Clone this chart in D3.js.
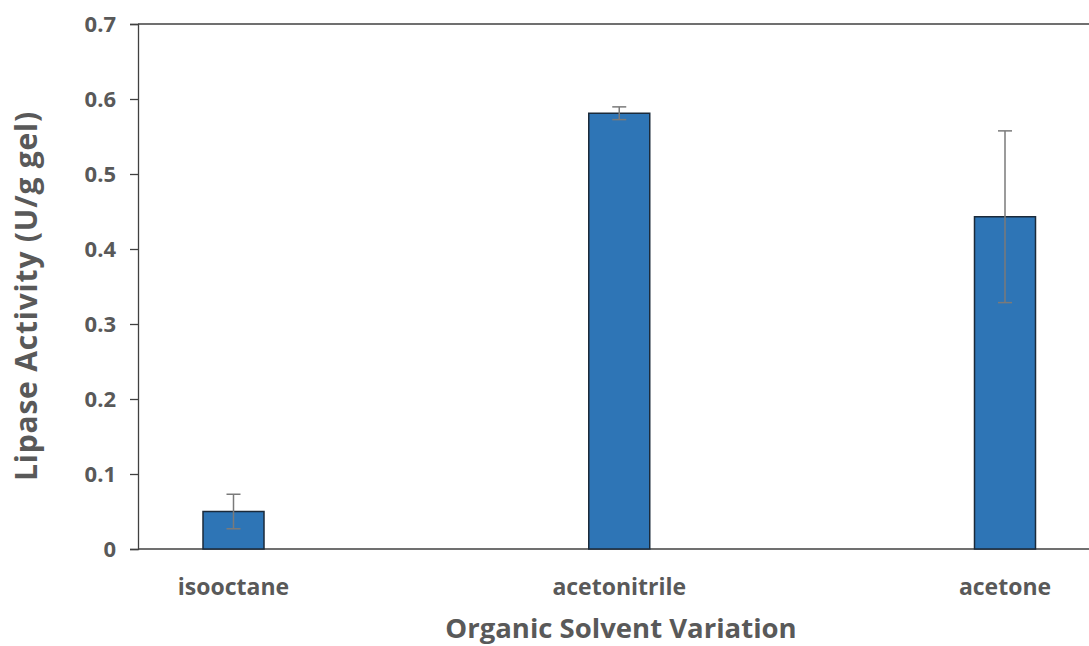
<!DOCTYPE html>
<html>
<head>
<meta charset="utf-8">
<script src="https://cdn.jsdelivr.net/npm/d3@7"></script>
<style>
  html, body { margin: 0; padding: 0; background: #fff; }
  svg { display: block; }
  text { font-family: "Open Sans", "Noto Sans", sans-serif; fill: #595959; font-weight: bold; }
</style>
</head>
<body>
<svg id="chart" width="1089" height="646"></svg>
<script>
// Lipase activity by organic solvent
const categories = ["isooctane", "acetonitrile", "acetone"];
const activity = [0.050, 0.581, 0.443];
const errors = [0.023, 0.0085, 0.1145];
const yTicks = [0, 0.1, 0.2, 0.3, 0.4, 0.5, 0.6, 0.7];

const svg = d3.select("#chart");
const plot = { left: 138, top: 24, right: 1089, bottom: 549 };

const y = d3.scaleLinear().domain([0, 0.7]).range([plot.bottom, plot.top]);
const x = d3.scalePoint().domain(categories)
  .range([plot.left + 95.5, plot.left + 867]);
const barW = 61;

// plot frame: top border
svg.append("line")
  .attr("x1", plot.left).attr("x2", plot.right)
  .attr("y1", y(0.7)).attr("y2", y(0.7))
  .attr("stroke", "#404040").attr("stroke-width", 1.3);

// y axis
const yAxis = svg.append("g")
  .attr("transform", `translate(${plot.left},0)`)
  .call(d3.axisLeft(y).tickValues(yTicks).tickSize(8).tickPadding(14)
    .tickFormat(d => d === 0 ? "0" : d3.format(".1f")(d)));
yAxis.select(".domain").attr("stroke", "#404040").attr("stroke-width", 1.3);
yAxis.selectAll(".tick line").attr("stroke", "#404040").attr("stroke-width", 1.3);
yAxis.selectAll(".tick text").style("font-size", "22px").attr("fill", "#595959");

// x axis baseline
svg.append("line")
  .attr("x1", plot.left).attr("x2", plot.right)
  .attr("y1", y(0)).attr("y2", y(0))
  .attr("stroke", "#404040").attr("stroke-width", 1.3);

// bars
svg.append("g").selectAll("rect")
  .data(categories)
  .join("rect")
  .attr("x", d => x(d) - barW / 2)
  .attr("width", barW)
  .attr("y", (d, i) => y(activity[i]))
  .attr("height", (d, i) => y(0) - y(activity[i]))
  .attr("fill", "#2E75B6")
  .attr("stroke", "#1b2a3a")
  .attr("stroke-width", 1.5);

// error bars
const eb = svg.append("g").attr("stroke", "#7a7a7a").attr("stroke-width", 1.5);
categories.forEach((c, i) => {
  const cx = x(c);
  const hi = y(activity[i] + errors[i]);
  const lo = y(activity[i] - errors[i]);
  eb.append("line").attr("x1", cx).attr("x2", cx).attr("y1", hi).attr("y2", lo);
  eb.append("line").attr("x1", cx - 7).attr("x2", cx + 7).attr("y1", hi).attr("y2", hi);
  eb.append("line").attr("x1", cx - 7).attr("x2", cx + 7).attr("y1", lo).attr("y2", lo);
});

// category labels
svg.append("g").selectAll("text")
  .data(categories)
  .join("text")
  .attr("x", d => x(d))
  .attr("y", 595)
  .attr("text-anchor", "middle")
  .style("font-size", "23px")
  .text(d => d);

// axis titles
svg.append("text")
  .attr("x", 621).attr("y", 638)
  .attr("text-anchor", "middle")
  .style("font-size", "27.5px")
  .text("Organic Solvent Variation");

svg.append("text")
  .attr("transform", "translate(37,296) rotate(-90)")
  .attr("text-anchor", "middle")
  .style("font-size", "30px")
  .style("letter-spacing", "0.8px")
  .text("Lipase Activity (U/g gel)");
</script>
</body>
</html>
